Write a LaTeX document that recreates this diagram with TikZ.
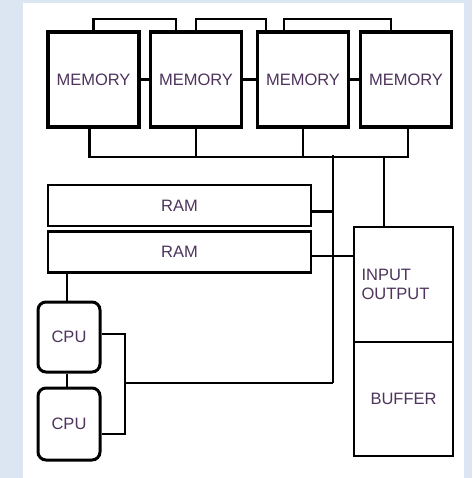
\documentclass[tikz,border=0pt]{standalone}
\usepackage{fontspec}
\setsansfont{Liberation Sans}
\usetikzlibrary{positioning, calc}
\definecolor{framebg}{RGB}{220,230,242}
\definecolor{labelc}{RGB}{78,52,92}

\begin{document}
\begin{tikzpicture}[
    x=1pt, y=-1pt,
    lbl/.style={font=\fontsize{16.5}{19}\selectfont\sffamily, text=labelc},
    mem/.style={draw, lbl, line width=3.6pt, minimum width=91pt, minimum height=95pt,
                inner sep=0pt},
    ram/.style={draw, lbl, line width=2.8pt, minimum width=263pt, minimum height=41pt,
                inner sep=0pt},
    cpu/.style={draw, lbl, line width=3pt, rounded corners=8pt, minimum width=62pt,
                minimum height=71pt, inner sep=0pt},
    unit/.style={draw, lbl, line width=2.6pt, minimum width=99pt, minimum height=115pt,
                 inner sep=0pt},
    wire/.style={line width=2.4pt},
]

% fond
\fill[framebg] (0,0) rectangle (472,478);
\fill[white] (23,3) rectangle (464,478);

% memoires
\node[mem] (m1) at (93.5,79.5) {MEMORY};
\node[mem] (m2) at (196,79.5) {MEMORY};
\node[mem] (m3) at (303,79.5) {MEMORY};
\node[mem] (m4) at (406,79.5) {MEMORY};

% ram
\node[ram] (ram1) at (179.5,205.5) {RAM};
\node[ram] (ram2) at (179.5,252) {RAM};

% entree sortie
\node[unit, align=left, text width=84pt] (io) at (403.5,284.5) {INPUT\\OUTPUT};
\node[unit, minimum height=114pt] (buf) at (403.5,399) {BUFFER};

% processeurs
\node[cpu, minimum height=70pt] (cpu1) at (69,337) {CPU};
\node[cpu, minimum height=72pt] (cpu2) at (69,424) {CPU};

% liens du haut
\draw[wire] (m1.north) -- ++(0,-11) -| ($(m2.north west)+(27,0)$);
\draw[wire] (m2.north) -- ++(0,-11) -| ($(m3.north west)+(10,0)$);
\draw[wire] ($(m3.north west)+(28,0)$) -- ++(0,-11) -| ($(m4.north west)+(32,0)$);
\draw[wire] (m1) -- (m2);
\draw[wire] (m2) -- (m3);
\draw[wire] (m3) -- (m4);

% bus
\coordinate (b1) at ($(m1.south)+(-4,28)$);
\coordinate (b4) at ($(m4.south)+(2,28)$);
\draw[wire] ($(m1.south)+(-4,0)$) -- (b1) -- (b4) -- ($(m4.south)+(2,0)$);
\draw[wire] (m2.south) -- (m2.south |- b1);
\draw[wire] (m3.south) -- (m3.south |- b1);
\coordinate (drop) at (333,155);
\coordinate (corner) at (333,383);
\coordinate (iotap) at ($(io.north)+(-19.5,0)$);
\draw[wire] (drop) -- (corner);
\draw[wire] (iotap) -- (iotap |- b1);

% liaisons ram
\coordinate (r1tap) at ($(ram1.east)+(0,6)$);
\coordinate (r2tap) at ($(ram2.east)+(0,4)$);
\coordinate (c1tap) at ($(cpu1.north)+(-2,0)$);
\draw[wire] (r1tap) -- (r1tap -| drop);
\draw[wire] (r2tap) -- (r2tap -| io.west);
\draw[wire] (c1tap) -- (c1tap |- ram2.south);

% liaisons cpu
\coordinate (cbar) at (125,383);
\coordinate (c2tap) at ($(cpu2.east)+(0,10)$);
\draw[wire] ($(cpu1.east)+(0,-3)$) -| (cbar) |- (c2tap);
\draw[wire] (cbar) -- (corner);
\draw[wire] ($(cpu1.south)+(-2,0)$) -- ($(cpu2.north)+(-2,0)$);

\end{tikzpicture}
\end{document}
